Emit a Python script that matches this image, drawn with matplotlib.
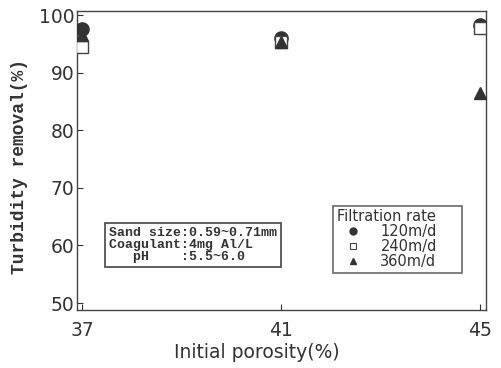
import matplotlib
matplotlib.use("Agg")
import matplotlib.pyplot as plt
from matplotlib.lines import Line2D

porosity = [37, 41, 45]
rate_labels = ["120m/d", "240m/d", "360m/d"]
removal_120 = [97.6, 96.0, 98.3]
removal_240 = [94.5, 95.3, 97.8]
removal_360 = [96.5, 95.4, 86.4]
x_ticks = [37, 41, 45]
y_ticks = [50, 60, 70, 80, 90, 100]

fig = plt.figure(figsize=(5.01, 3.68), dpi=100)
ax = fig.add_axes([0.1537, 0.1576, 0.8163, 0.8125])

dark = "#333333"
ax.plot(porosity, removal_120, linestyle="none", marker="o", markersize=9.5,
        color=dark, zorder=3)
ax.plot(porosity, removal_240, linestyle="none", marker="s", markersize=8.5,
        markerfacecolor="white", markeredgecolor="#444444", markeredgewidth=1.0, zorder=4)
ax.plot(porosity, removal_360, linestyle="none", marker="^", markersize=8.5,
        color=dark, zorder=5)

ax.set_xlim(36.9, 45.12)
ax.set_ylim(48.8, 100.7)
ax.set_xticks(x_ticks)
ax.set_yticks(y_ticks)
ax.tick_params(direction="in", length=4.5, width=0.8, labelsize=13.5, colors=dark,
               pad=2)
ax.tick_params(axis="x", pad=8)
for s in ax.spines.values():
    s.set_color("#444444")
    s.set_linewidth(1.0)

ax.set_xlabel("Initial porosity(%)", fontsize=13.5, color=dark)
ax.xaxis.set_label_coords(0.44, -0.112)
ax.set_ylabel("Turbidity removal(%)", fontsize=13, color=dark,
              family="Liberation Mono", fontweight="bold")
ax.yaxis.set_label_coords(-0.12, 0.48)

ax.text(0.078, 0.158,
        "Sand size:0.59~0.71mm\nCoagulant:4mg Al/L\n   pH    :5.5~6.0",
        transform=ax.transAxes, family="Liberation Mono", fontweight="bold",
        fontsize=9.5, color=dark, va="bottom", ha="left", linespacing=1.0,
        bbox=dict(boxstyle="square,pad=0.3", facecolor="white",
                  edgecolor="#444444", linewidth=1.2))

handles = [
    Line2D([], [], linestyle="none", marker="o", markersize=5, color=dark),
    Line2D([], [], linestyle="none", marker="s", markersize=5,
           markerfacecolor="white", markeredgecolor="#444444", markeredgewidth=0.8),
    Line2D([], [], linestyle="none", marker="^", markersize=5, color=dark),
]
leg = ax.legend(handles, rate_labels, title="Filtration rate", loc="lower left",
                bbox_to_anchor=(0.626, 0.124, 0.315, 0.22), mode="expand",
                borderaxespad=0, fontsize=10.5, title_fontsize=10.5,
                frameon=True, fancybox=False, edgecolor="#444444",
                handletextpad=0.8, borderpad=0.25, labelspacing=0.0,
                handlelength=2.2)
leg.get_frame().set_linewidth(1.2)
leg._legend_box.align = "left"
for t in leg.get_texts():
    t.set_color(dark)
leg.get_title().set_color(dark)

fig.savefig("out.png", dpi=100)
